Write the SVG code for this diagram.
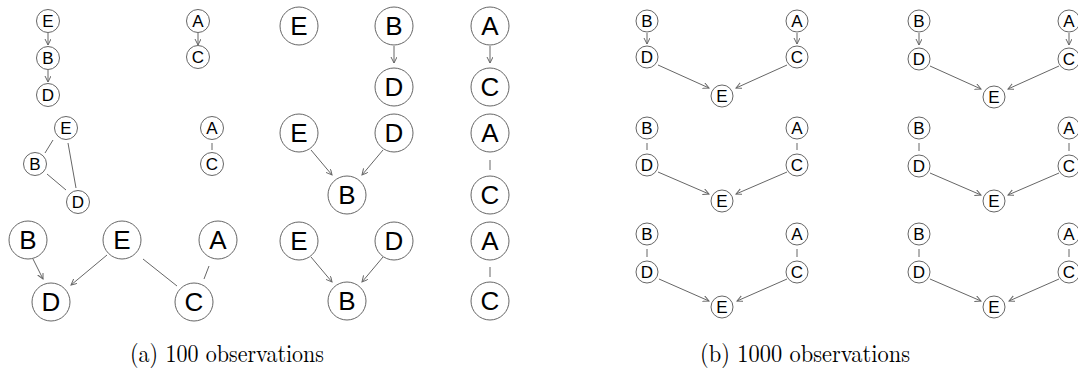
<svg xmlns="http://www.w3.org/2000/svg" width="1078" height="375" viewBox="0 0 1078 375">
<style>
.n circle{fill:#fff;stroke:#666;stroke-width:1}
.s text{font-family:"Liberation Sans",Arial,sans-serif;font-size:17px;fill:#000;text-anchor:middle;dominant-baseline:central}
.b text{font-family:"Liberation Sans",Arial,sans-serif;font-size:26px;fill:#000;text-anchor:middle;dominant-baseline:central}
.e line{stroke:#666;stroke-width:1;fill:none}
.e line.a{marker-end:url(#arr)}
.cap{font-family:"Latin Modern Roman","Liberation Serif","DejaVu Serif",serif;font-size:25px;fill:#000;text-anchor:middle}
</style>
<defs>
<marker id="arr" markerWidth="8" markerHeight="8" refX="6" refY="3" orient="auto" markerUnits="userSpaceOnUse">
<path d="M0,0 L6,3 L0,6" fill="none" stroke="#666" stroke-width="1"/>
</marker>
</defs>
<rect width="1078" height="375" fill="#fff"/>
<g id="connectors" class="e">
<line class="a" x1="48" y1="33" x2="48" y2="45"/>
<line class="a" x1="48" y1="70" x2="48" y2="82"/>
<line class="a" x1="198" y1="33" x2="198" y2="45"/>
<line x1="53" y1="140" x2="45" y2="153"/>
<line x1="68" y1="143" x2="76" y2="188"/>
<line x1="47" y1="174" x2="66" y2="190"/>
<line x1="212" y1="143" x2="212" y2="150"/>
<line class="a" x1="33" y1="259" x2="43" y2="279"/>
<line class="a" x1="107" y1="255" x2="71" y2="285"/>
<line x1="143" y1="259" x2="177" y2="286"/>
<line x1="209" y1="266" x2="204" y2="279"/>
<line class="a" x1="394" y1="46" x2="394" y2="63"/>
<line class="a" x1="490" y1="46" x2="490" y2="63"/>
<line class="a" x1="311" y1="150" x2="332" y2="175"/>
<line class="a" x1="383" y1="150" x2="362" y2="175"/>
<line x1="490" y1="160" x2="490" y2="170"/>
<line class="a" x1="311" y1="257" x2="332" y2="282"/>
<line class="a" x1="383" y1="257" x2="362" y2="282"/>
<line x1="490" y1="267" x2="490" y2="277"/>
<line class="a" x1="647" y1="33" x2="647" y2="44"/>
<line class="a" x1="797" y1="33" x2="797" y2="44"/>
<line class="a" x1="658" y1="65" x2="709" y2="88"/>
<line class="a" x1="787" y1="65" x2="736" y2="88"/>
<line x1="647" y1="143" x2="647" y2="150"/>
<line x1="797" y1="143" x2="797" y2="150"/>
<line class="a" x1="658" y1="172" x2="709" y2="194"/>
<line class="a" x1="787" y1="172" x2="736" y2="194"/>
<line x1="647" y1="249" x2="647" y2="257"/>
<line x1="797" y1="249" x2="797" y2="257"/>
<line class="a" x1="659" y1="279" x2="709" y2="301"/>
<line class="a" x1="787" y1="279" x2="737" y2="301"/>
<line class="a" x1="919" y1="33" x2="919" y2="45"/>
<line class="a" x1="1069" y1="33" x2="1069" y2="45"/>
<line class="a" x1="930" y1="66" x2="981" y2="89"/>
<line class="a" x1="1059" y1="66" x2="1008" y2="89"/>
<line x1="919" y1="143" x2="919" y2="151"/>
<line x1="1069" y1="143" x2="1069" y2="151"/>
<line class="a" x1="930" y1="173" x2="981" y2="195"/>
<line class="a" x1="1059" y1="173" x2="1008" y2="195"/>
<line x1="919" y1="249" x2="919" y2="257"/>
<line x1="1069" y1="249" x2="1069" y2="257"/>
<line class="a" x1="930" y1="279" x2="981" y2="301"/>
<line class="a" x1="1059" y1="279" x2="1009" y2="301"/>
</g>
<g id="a1E" class="n s"><circle cx="48" cy="21" r="11.5"/><text x="48" y="21">E</text></g>
<g id="a1B" class="n s"><circle cx="48" cy="58" r="11.5"/><text x="48" y="58">B</text></g>
<g id="a1D" class="n s"><circle cx="48" cy="95" r="11.5"/><text x="48" y="95">D</text></g>
<g id="a1A" class="n s"><circle cx="198" cy="21" r="11.5"/><text x="198" y="21">A</text></g>
<g id="a1C" class="n s"><circle cx="198" cy="57" r="11.5"/><text x="198" y="57">C</text></g>
<g id="a2E" class="n s"><circle cx="66" cy="128" r="11.5"/><text x="66" y="128">E</text></g>
<g id="a2B" class="n s"><circle cx="35" cy="164" r="11.5"/><text x="35" y="164">B</text></g>
<g id="a2D" class="n s"><circle cx="78" cy="202" r="11.5"/><text x="78" y="202">D</text></g>
<g id="a2A" class="n s"><circle cx="212" cy="128" r="11.5"/><text x="212" y="128">A</text></g>
<g id="a2C" class="n s"><circle cx="212" cy="164" r="11.5"/><text x="212" y="164">C</text></g>
<g id="a3B" class="n b"><circle cx="28" cy="240" r="19"/><text x="28" y="240">B</text></g>
<g id="a3E" class="n b"><circle cx="122" cy="240" r="19"/><text x="122" y="240">E</text></g>
<g id="a3A" class="n b"><circle cx="218" cy="240" r="19"/><text x="218" y="240">A</text></g>
<g id="a3D" class="n b"><circle cx="51" cy="302" r="19"/><text x="51" y="302">D</text></g>
<g id="a3C" class="n b"><circle cx="194" cy="302" r="19"/><text x="194" y="302">C</text></g>
<g id="a4E" class="n b"><circle cx="299" cy="26" r="19"/><text x="299" y="26">E</text></g>
<g id="a4B" class="n b"><circle cx="394" cy="26" r="19"/><text x="394" y="26">B</text></g>
<g id="a4D" class="n b"><circle cx="394" cy="87" r="19"/><text x="394" y="87">D</text></g>
<g id="a4A" class="n b"><circle cx="490" cy="26" r="19"/><text x="490" y="26">A</text></g>
<g id="a4C" class="n b"><circle cx="490" cy="87" r="19"/><text x="490" y="87">C</text></g>
<g id="a5E" class="n b"><circle cx="299" cy="133" r="19"/><text x="299" y="133">E</text></g>
<g id="a5D" class="n b"><circle cx="394" cy="133" r="19"/><text x="394" y="133">D</text></g>
<g id="a5B" class="n b"><circle cx="347" cy="195" r="19"/><text x="347" y="195">B</text></g>
<g id="a5A" class="n b"><circle cx="490" cy="133" r="19"/><text x="490" y="133">A</text></g>
<g id="a5C" class="n b"><circle cx="490" cy="195" r="19"/><text x="490" y="195">C</text></g>
<g id="a6E" class="n b"><circle cx="299" cy="241" r="19"/><text x="299" y="241">E</text></g>
<g id="a6D" class="n b"><circle cx="394" cy="241" r="19"/><text x="394" y="241">D</text></g>
<g id="a6B" class="n b"><circle cx="347" cy="301" r="19"/><text x="347" y="301">B</text></g>
<g id="a6A" class="n b"><circle cx="490" cy="241" r="19"/><text x="490" y="241">A</text></g>
<g id="a6C" class="n b"><circle cx="490" cy="301" r="19"/><text x="490" y="301">C</text></g>
<g id="b1B" class="n s"><circle cx="647" cy="21" r="11"/><text x="647" y="21">B</text></g>
<g id="b1D" class="n s"><circle cx="647" cy="57" r="11"/><text x="647" y="57">D</text></g>
<g id="b1A" class="n s"><circle cx="797" cy="21" r="11"/><text x="797" y="21">A</text></g>
<g id="b1C" class="n s"><circle cx="797" cy="57" r="11"/><text x="797" y="57">C</text></g>
<g id="b1E" class="n s"><circle cx="722" cy="96" r="11"/><text x="722" y="96">E</text></g>
<g id="b2B" class="n s"><circle cx="647" cy="128" r="11"/><text x="647" y="128">B</text></g>
<g id="b2D" class="n s"><circle cx="647" cy="165" r="11"/><text x="647" y="165">D</text></g>
<g id="b2A" class="n s"><circle cx="797" cy="128" r="11"/><text x="797" y="128">A</text></g>
<g id="b2C" class="n s"><circle cx="797" cy="165" r="11"/><text x="797" y="165">C</text></g>
<g id="b2E" class="n s"><circle cx="722" cy="201" r="11"/><text x="722" y="201">E</text></g>
<g id="b3B" class="n s"><circle cx="647" cy="234" r="11"/><text x="647" y="234">B</text></g>
<g id="b3D" class="n s"><circle cx="647" cy="272" r="11"/><text x="647" y="272">D</text></g>
<g id="b3A" class="n s"><circle cx="797" cy="234" r="11"/><text x="797" y="234">A</text></g>
<g id="b3C" class="n s"><circle cx="797" cy="272" r="11"/><text x="797" y="272">C</text></g>
<g id="b3E" class="n s"><circle cx="722" cy="307" r="11"/><text x="722" y="307">E</text></g>
<g id="b4B" class="n s"><circle cx="919" cy="21" r="11"/><text x="919" y="21">B</text></g>
<g id="b4D" class="n s"><circle cx="919" cy="59" r="11"/><text x="919" y="59">D</text></g>
<g id="b4A" class="n s"><circle cx="1069" cy="21" r="11"/><text x="1069" y="21">A</text></g>
<g id="b4C" class="n s"><circle cx="1069" cy="59" r="11"/><text x="1069" y="59">C</text></g>
<g id="b4E" class="n s"><circle cx="994" cy="97" r="11"/><text x="994" y="97">E</text></g>
<g id="b5B" class="n s"><circle cx="919" cy="128" r="11"/><text x="919" y="128">B</text></g>
<g id="b5D" class="n s"><circle cx="919" cy="166" r="11"/><text x="919" y="166">D</text></g>
<g id="b5A" class="n s"><circle cx="1069" cy="128" r="11"/><text x="1069" y="128">A</text></g>
<g id="b5C" class="n s"><circle cx="1069" cy="166" r="11"/><text x="1069" y="166">C</text></g>
<g id="b5E" class="n s"><circle cx="994" cy="201" r="11"/><text x="994" y="201">E</text></g>
<g id="b6B" class="n s"><circle cx="919" cy="234" r="11"/><text x="919" y="234">B</text></g>
<g id="b6D" class="n s"><circle cx="919" cy="272" r="11"/><text x="919" y="272">D</text></g>
<g id="b6A" class="n s"><circle cx="1069" cy="234" r="11"/><text x="1069" y="234">A</text></g>
<g id="b6C" class="n s"><circle cx="1069" cy="272" r="11"/><text x="1069" y="272">C</text></g>
<g id="b6E" class="n s"><circle cx="994" cy="307" r="11"/><text x="994" y="307">E</text></g>
<text class="cap" x="227" y="362" textLength="194" lengthAdjust="spacingAndGlyphs">(a) 100 observations</text>
<text class="cap" x="805" y="362" textLength="210" lengthAdjust="spacingAndGlyphs">(b) 1000 observations</text>
</svg>
